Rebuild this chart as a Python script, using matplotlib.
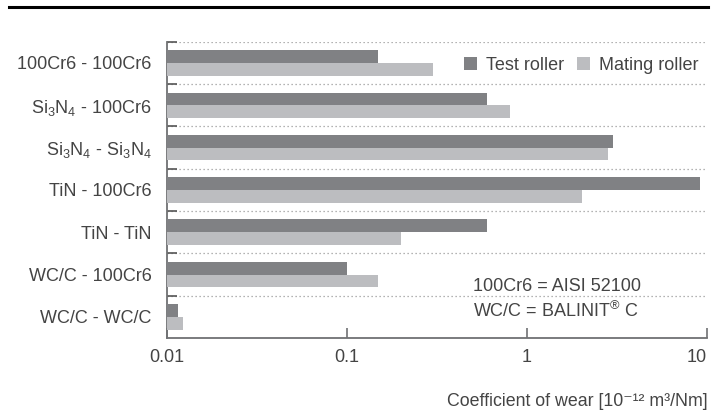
import numpy as np
import matplotlib
matplotlib.use("Agg")
from matplotlib import pyplot as plt
from matplotlib.lines import Line2D

plt.rcParams['font.family'] = ['Liberation Sans', 'DejaVu Sans']
plt.rcParams['mathtext.fontset'] = 'custom'
plt.rcParams['mathtext.rm'] = 'Liberation Sans'
plt.rcParams['mathtext.it'] = 'Liberation Sans:italic'
plt.rcParams['mathtext.bf'] = 'Liberation Sans:bold'

# data
pairs = ['100Cr6 - 100Cr6',
         r'Si$_\mathregular{3}$N$_\mathregular{4}$ - 100Cr6',
         r'Si$_\mathregular{3}$N$_\mathregular{4}$ - Si$_\mathregular{3}$N$_\mathregular{4}$',
         'TiN - 100Cr6',
         'TiN - TiN',
         'WC/C - 100Cr6',
         'WC/C - WC/C']
test_roller = [0.15, 0.60, 3.0, 9.2, 0.60, 0.10, 0.0115]
mating_roller = [0.30, 0.81, 2.83, 2.03, 0.20, 0.15, 0.0123]
xticks = [0.01, 0.1, 1, 10]
xticklabels = ['0.01', '0.1', '1', '10']

dark = '#808184'
light = '#bcbdc0'
txt = '#444444'
axcol = '#707173'

fig = plt.figure(figsize=(7.11, 4.15), dpi=100)
ax = fig.add_axes([0.2345, 0.1855, 0.7595, 0.714])

y = np.arange(len(pairs))
h = 0.3
base = 0.001
ax.barh(y - h / 2, np.array(test_roller) - base, left=base, height=h, color=dark, label='Test roller', zorder=3)
ax.barh(y + h / 2, np.array(mating_roller) - base, left=base, height=h, color=light, label='Mating roller', zorder=3)

ax.set_xscale('log')
ax.set_xlim(0.01, 10)
ax.set_ylim(len(pairs) - 0.5, -0.5)

# dotted separators between categories
for b in np.arange(-0.5, len(pairs) - 1, 1.0):
    ax.axhline(b, color='#9a9a9a', lw=0.9, ls=(0, (1, 2.2)), zorder=1)

ax.set_yticks(y)
ax.set_yticklabels(pairs, fontsize=13, color=txt)
ax.set_yticks(np.arange(-0.5, len(pairs) - 1, 1.0), minor=True)
ax.tick_params(axis='y', which='major', length=0, pad=11)
ax.tick_params(axis='y', which='minor', direction='in', length=7, width=1.2, color='#555555')

ax.set_xticks(xticks)
ax.set_xticklabels(xticklabels, fontsize=13, color=txt)
ax.get_xticklabels()[-1].set_ha('right')
ax.xaxis.set_minor_locator(matplotlib.ticker.NullLocator())
ax.tick_params(axis='x', which='major', direction='in', length=7, width=1.2, color=axcol, pad=8)

for s in ['top', 'right']:
    ax.spines[s].set_visible(False)
for s in ['left', 'bottom']:
    ax.spines[s].set_color(axcol)
    ax.spines[s].set_linewidth(1.3)

leg = ax.legend(loc='upper right', bbox_to_anchor=(1.005, 0.985), ncol=2, frameon=False,
                fontsize=13, handlelength=0.7, handleheight=0.7, handletextpad=0.5,
                columnspacing=0.75, borderaxespad=0.2)
for t in leg.get_texts():
    t.set_color(txt)

ax.text(0.568, 0.13, '100Cr6 = AISI 52100\nWC/C = BALINIT$^{\\mathregular{®}}$ C', transform=ax.transAxes,
        fontsize=13, color=txt, ha='left', va='center', linespacing=1.35)

fig.text(0.995, 0.032, 'Coefficient of wear [10⁻¹² m³/Nm]',
         fontsize=12.8, color=txt, ha='right', va='center')

fig.add_artist(Line2D([0.012, 0.996], [0.983, 0.983], color='black', lw=2.2, transform=fig.transFigure))

fig.savefig('out.png', dpi=100)
